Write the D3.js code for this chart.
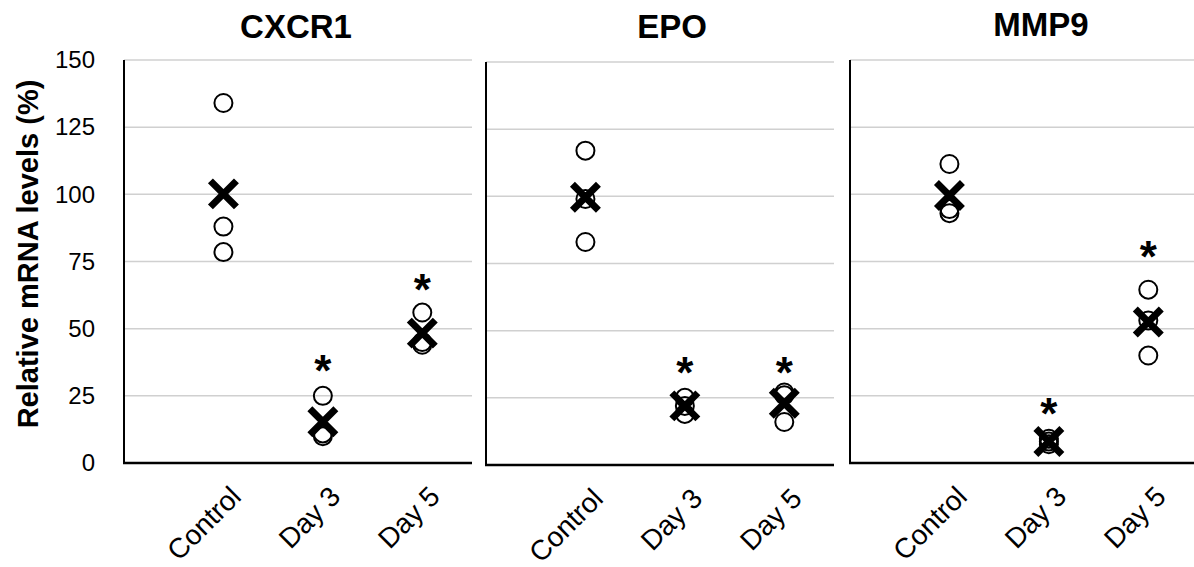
<!DOCTYPE html>
<html>
<head>
<meta charset="utf-8">
<script src="https://cdn.jsdelivr.net/npm/d3@7"></script>
<style>
  body { margin: 0; background: #fff; }
  text { font-family: "Liberation Sans", Arial, sans-serif; }
</style>
</head>
<body>
<div id="chart"></div>
<script>
// data
var genes = ["CXCR1", "EPO", "MMP9"];
var groups = ["Control", "Day 3", "Day 5"];
var yTicks = [0, 25, 50, 75, 100, 125, 150];

// individual samples per group (circles)
var cxcr1Values = [[134, 88, 78.5], [25, 11, 10], [56, 44, 45]];
var epoValues = [[117, 99, 83], [25, 22, 19], [26, 27, 16]];
var mmp9Values = [[111.3, 94.5, 93], [7, 8, 9], [64.5, 53, 40]];

// where the significance asterisks sit (null = none)
var cxcr1Stars = [null, 38, 68];
var epoStars = [null, 38, 38];
var mmp9Stars = [null, 22, 80.5];

var w = 1194, h = 567;
var panelW = 348;
var panelLeft = [124, 486, 850];
var panelTop = [60, 62, 60];
var panelH = 403;
var titleX = [296, 672, 1041];
var titleY = [38, 38, 36];

var allValues = [cxcr1Values, epoValues, mmp9Values];
var allStars = [cxcr1Stars, epoStars, mmp9Stars];

var svg = d3.select("#chart")
    .append("svg")
    .attr("width", w)
    .attr("height", h);

// y axis title
svg.append("text")
    .attr("transform", "translate(38," + 254 + ") rotate(-90)")
    .attr("text-anchor", "middle")
    .style("font-size", "29px")
    .style("font-weight", "bold")
    .text("Relative mRNA levels (%)");

genes.forEach(function(gene, p) {
    var left = panelLeft[p];
    var top = panelTop[p];

    var x = d3.scaleLinear()
        .domain([0, 3.5])
        .range([left, left + panelW]);

    var y = d3.scaleLinear()
        .domain([0, 150])
        .range([top + panelH, top]);

    var g = svg.append("g");

    // gridlines
    g.selectAll(".grid")
        .data(yTicks.filter(function(d) { return d > 0; }))
        .enter()
        .append("line")
        .attr("x1", left)
        .attr("x2", left + panelW)
        .attr("y1", function(d) { return y(d); })
        .attr("y2", function(d) { return y(d); })
        .attr("stroke", "#d0d0d0")
        .attr("stroke-width", 1.5);

    // y tick labels only on first panel
    if (p == 0) {
        var yAxis = d3.axisLeft(y)
            .tickValues(yTicks)
            .tickSize(0)
            .tickPadding(29);
        var ya = g.append("g")
            .attr("transform", "translate(" + left + ",0)")
            .call(yAxis);
        ya.select(".domain").remove();
        ya.selectAll("text")
            .style("font-size", "24px")
            .style("font-family", "'Liberation Sans', Arial, sans-serif")
            .attr("fill", "#000");
    }

    // axis lines
    g.append("line")
        .attr("x1", left)
        .attr("x2", left)
        .attr("y1", y(150))
        .attr("y2", y(0))
        .attr("stroke", "#000")
        .attr("stroke-width", 2);

    g.append("line")
        .attr("x1", left - 1)
        .attr("x2", left + panelW)
        .attr("y1", y(0))
        .attr("y2", y(0))
        .attr("stroke", "#000")
        .attr("stroke-width", 2.5);

    // title
    svg.append("text")
        .attr("x", titleX[p])
        .attr("y", titleY[p])
        .attr("text-anchor", "middle")
        .style("font-size", "33px")
        .style("font-weight", "bold")
        .text(gene);

    // x labels, rotated
    g.selectAll(".xlab")
        .data(groups)
        .enter()
        .append("text")
        .attr("transform", function(d, i) {
            return "translate(" + (x(i + 1) + 5) + "," + (top + panelH + 21) + ") rotate(-45)";
        })
        .attr("text-anchor", "end")
        .attr("dy", "0.72em")
        .style("font-size", "28px")
        .text(function(d) { return d; });

    var vals = allValues[p];

    // mean markers (X)
    var size = 13;
    g.selectAll(".mean")
        .data(vals)
        .enter()
        .append("path")
        .attr("d", function(d, i) {
            var cx = x(i + 1), cy = y(d3.mean(d));
            return "M" + (cx - size) + "," + (cy - size) + "L" + (cx + size) + "," + (cy + size) +
                "M" + (cx - size) + "," + (cy + size) + "L" + (cx + size) + "," + (cy - size);
        })
        .attr("stroke", "#000")
        .attr("stroke-width", 7)
        .attr("fill", "none");

    // sample circles
    vals.forEach(function(arr, i) {
        g.selectAll(".pt" + i)
            .data(arr)
            .enter()
            .append("circle")
            .attr("cx", x(i + 1))
            .attr("cy", function(d) { return y(d); })
            .attr("r", 9)
            .attr("fill", "none")
            .attr("stroke", "#000")
            .attr("stroke-width", 2);
    });

    // asterisks
    var stars = allStars[p]
        .map(function(d, i) { return { v: d, i: i }; })
        .filter(function(d) { return d.v != null; });

    g.selectAll(".star")
        .data(stars)
        .enter()
        .append("text")
        .attr("x", function(d) { return x(d.i + 1); })
        .attr("y", function(d) { return y(d.v); })
        .attr("dy", "0.57em")
        .attr("text-anchor", "middle")
        .style("font-size", "44px")
        .style("font-weight", "bold")
        .text("*");
});
</script>
</body>
</html>
